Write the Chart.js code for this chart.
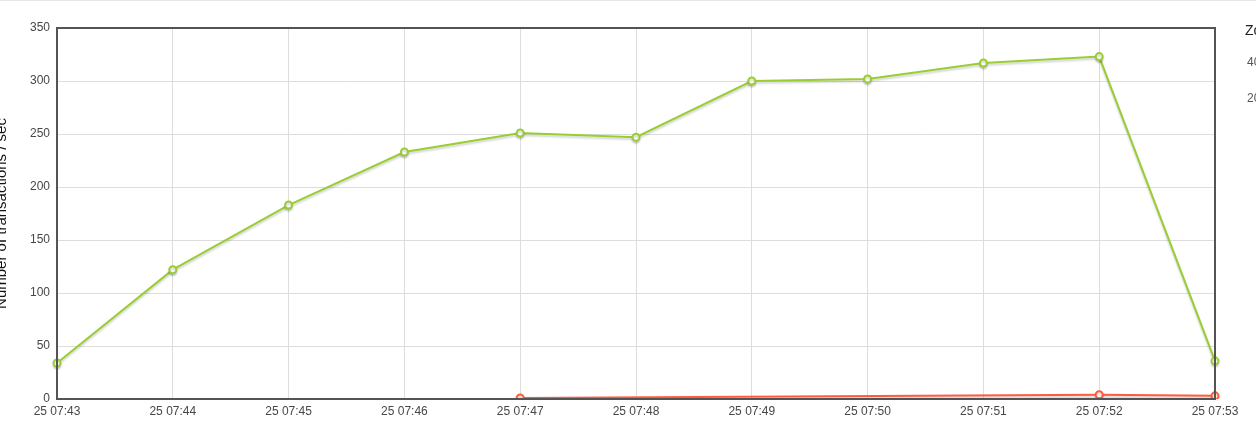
<!DOCTYPE html>
<html>
<head>
<meta charset="utf-8">
<script src="https://cdn.jsdelivr.net/npm/chart.js@4/dist/chart.umd.min.js"></script>
<style>
  html, body { margin: 0; padding: 0; background: #fff; overflow: hidden; }
  body { width: 1256px; height: 430px; position: relative; border-top: 1px solid #e6e6e6; box-sizing: border-box; }
  #wrap { position: absolute; left: -7px; top: -1px; width: 1263px; height: 430px; }
  .side { position: absolute; font-family: "Liberation Sans", Arial, sans-serif; white-space: nowrap; }
</style>
</head>
<body>
<div id="wrap"><canvas id="tps-chart"></canvas></div>
<div class="side" style="left:1245px; top:21px; font-size:14px; color:#222;">Zoom</div>
<div class="side" style="left:1247px; top:54px; font-size:12px; color:#555;">40</div>
<div class="side" style="left:1247px; top:90px; font-size:12px; color:#555;">20</div>
<script>
// ── data ──
const labels = ['25 07:43', '25 07:44', '25 07:45', '25 07:46', '25 07:47', '25 07:48',
                '25 07:49', '25 07:50', '25 07:51', '25 07:52', '25 07:53'];
const successTps = [34, 122, 183, 233, 251, 247, 300, 302, 317, 323, 36];
const failureTps = [null, null, null, null, 1, null, null, null, null, 4, 3];
const yTicks = [0, 50, 100, 150, 200, 250, 300, 350];

const tickColor = '#474747';
const gridColor = '#dddddd';

// flot-style drop shadow under the lines
const lineShadow = {
    id: 'lineShadow',
    beforeDatasetDraw(chart) {
        const ctx = chart.ctx;
        ctx.save();
        ctx.shadowColor = 'rgba(0,0,0,0.18)';
        ctx.shadowOffsetY = 2;
        ctx.shadowBlur = 2;
    },
    afterDatasetDraw(chart) { chart.ctx.restore(); }
};

// dark frame round the plot area
const frame = {
    id: 'frame',
    afterDatasetsDraw(chart) {
        const { ctx, chartArea: a } = chart;
        ctx.save();
        ctx.strokeStyle = '#545454';
        ctx.lineWidth = 2;
        ctx.strokeRect(a.left, a.top, a.right - a.left, a.bottom - a.top);
        ctx.restore();
    }
};

new Chart(document.getElementById('tps-chart'), {
    type: 'line',
    data: {
        labels,
        datasets: [
            { label: 'Transaction-success', data: successTps, borderColor: '#9ACD32', backgroundColor: '#fff',
              borderWidth: 2, pointRadius: 3.5, pointBorderWidth: 2, tension: 0 },
            { label: 'Transaction-failure', data: failureTps, borderColor: '#FF5A3C', backgroundColor: '#fff',
              borderWidth: 2, pointRadius: 3.5, pointBorderWidth: 2, tension: 0, spanGaps: true }
        ]
    },
    options: {
        responsive: true, maintainAspectRatio: false, animation: false,
        layout: { padding: { top: 28, right: 41, bottom: 0, left: 0 } },
        plugins: { legend: { display: false }, tooltip: { enabled: false } },
        scales: {
            x: {
                grid: { color: gridColor, drawTicks: false },
                border: { display: false },
                ticks: { color: tickColor, maxRotation: 0, autoSkip: false, padding: 5,
                         font: { family: 'Liberation Sans', size: 12 } },
                afterFit(scale) { scale.height = 31; }
            },
            y: {
                min: 0, max: 350,
                afterBuildTicks(scale) { scale.ticks = yTicks.map(v => ({ value: v })); },
                grid: { color: gridColor, drawTicks: false },
                border: { display: false },
                ticks: { color: tickColor, padding: 7, font: { family: 'Liberation Sans', size: 12 } },
                title: { display: true, text: 'Number of transactions / sec', color: '#111',
                         font: { family: 'Liberation Sans', size: 15 }, padding: { top: 0, bottom: 0 } },
                afterFit(scale) { scale.width = 64; }
            }
        }
    },
    plugins: [lineShadow, frame]
});
</script>
</body>
</html>
